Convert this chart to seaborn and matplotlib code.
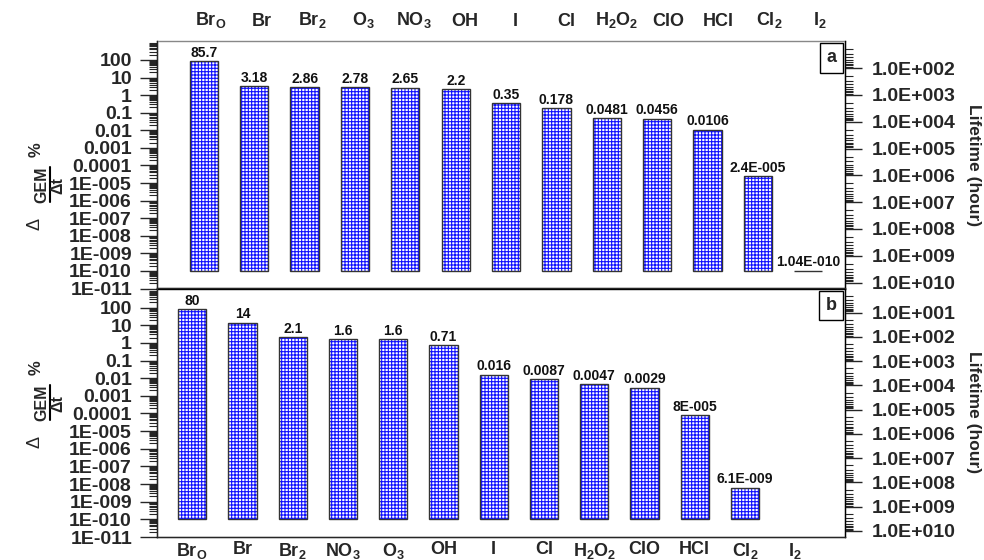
import numpy as np
import pandas as pd
import seaborn as sns
import matplotlib.pyplot as plt
from matplotlib import ticker
from matplotlib.patches import Rectangle
from matplotlib.lines import Line2D

# panel a data
cats_a = ["BrO", "Br", "Br2", "O3", "NO3", "OH", "I", "Cl", "H2O2", "ClO", "HCl", "Cl2", "I2"]
names_a = [r"Br$_O$", "Br", r"Br$_2$", r"O$_3$", r"NO$_3$", "OH", "I", "Cl",
           r"H$_2$O$_2$", "ClO", "HCl", r"Cl$_2$", r"I$_2$"]
vals_a = [85.7, 3.18, 2.86, 2.78, 2.65, 2.2, 0.35, 0.178, 0.0481, 0.0456, 0.0106, 2.4e-5, 1.04e-10]

# panel b data
cats_b = ["BrO", "Br", "Br2", "NO3", "O3", "OH", "I", "Cl", "H2O2", "ClO", "HCl", "Cl2", "I2"]
names_b = [r"Br$_O$", "Br", r"Br$_2$", r"NO$_3$", r"O$_3$", "OH", "I", "Cl",
           r"H$_2$O$_2$", "ClO", "HCl", r"Cl$_2$", r"I$_2$"]
vals_b = [80, 14, 2.1, 1.6, 1.6, 0.71, 0.016, 0.0087, 0.0047, 0.0029, 8e-5, 6.1e-9, np.nan]

rate_ticks = [10.0 ** e for e in range(-11, 3)]
rate_ticklabels = ["1E-011", "1E-010", "1E-009", "1E-008", "1E-007", "1E-006", "1E-005",
                   "0.0001", "0.001", "0.01", "0.1", "1", "10", "100"]
life_ticks_a = [10.0 ** e for e in range(2, 11)]
life_ticks_b = [10.0 ** e for e in range(1, 11)]

BASE = 1e-10

sns.set_style("ticks")
plt.rcParams["font.family"] = ["Liberation Sans", "DejaVu Sans"]
plt.rcParams["font.weight"] = "bold"
plt.rcParams["mathtext.fontset"] = "custom"
plt.rcParams["mathtext.default"] = "regular"
plt.rcParams["mathtext.bf"] = "Liberation Sans:bold"
plt.rcParams["mathtext.rm"] = "Liberation Sans:bold"
plt.rcParams["hatch.linewidth"] = 0.8


def fmt(v):
    if v >= 0.001:
        return f"{v:g}"
    mant, ex = f"{v:g}".split("e")
    return f"{mant}E-{abs(int(ex)):03d}"


def panel(ax, cats, names, vals, letter, life_ticks, xlim, life_lim):
    df = pd.DataFrame({"species": cats, "rate": np.array(vals, dtype=float) - BASE})
    sns.barplot(data=df, x="species", y="rate", order=cats, ax=ax, bottom=BASE,
                width=0.56, color="white", saturation=1, edgecolor="#1010ff",
                linewidth=0, hatch="+++++", errorbar=None)
    bars = ax.containers[0]
    for p in bars:
        ax.add_patch(Rectangle(p.get_xy(), p.get_width(), p.get_height(),
                               fill=False, edgecolor="#333333", lw=1, zorder=3))
    ax.bar_label(bars, labels=[fmt(v) for v in vals if not np.isnan(v)],
                 padding=1, fontsize=10, fontweight="bold", color="#111111")

    ax.set_yscale("log")
    ax.set_ylim(1e-11, 10 ** 3.08)
    ax.set_xlim(*xlim)
    ax.set_xlabel("")
    ax.set_ylabel("")
    ax.yaxis.set_major_locator(ticker.FixedLocator(rate_ticks))
    ax.yaxis.set_major_formatter(ticker.FixedFormatter(rate_ticklabels))
    ax.yaxis.set_minor_locator(ticker.LogLocator(base=10, subs=np.arange(2, 10), numticks=60))
    ax.yaxis.set_minor_formatter(ticker.NullFormatter())
    ax.tick_params(axis="y", which="major", direction="out", length=12, width=1,
                   pad=6, labelsize=14)
    ax.tick_params(axis="y", which="minor", direction="out", length=6, width=0.8)
    ax.set_xticks(range(len(cats)))
    ax.set_xticklabels(names)
    ax.tick_params(axis="x", length=0, labelsize=13)

    ax2 = ax.twinx()
    ax2.set_yscale("log")
    ax2.set_ylim(*life_lim)
    ax2.yaxis.set_major_locator(ticker.FixedLocator(life_ticks))
    ax2.yaxis.set_major_formatter(ticker.FixedFormatter(
        [f"1.0E+{int(round(np.log10(t))):03d}" for t in life_ticks]))
    ax2.yaxis.set_minor_locator(ticker.LogLocator(base=10, subs=np.arange(2, 10), numticks=60))
    ax2.yaxis.set_minor_formatter(ticker.NullFormatter())
    ax2.tick_params(axis="y", which="major", direction="out", length=12, width=1,
                    pad=7, labelsize=14)
    ax2.tick_params(axis="y", which="minor", direction="out", length=6, width=0.8)
    ax2.spines["top"].set_visible(False)

    for s in ax.spines.values():
        s.set_color("black")
        s.set_linewidth(1)
    ax2.spines["right"].set_color("black")

    ax.annotate(letter, xy=(1, 1), xycoords="axes fraction", xytext=(-6, -6),
                textcoords="offset points", ha="right", va="top", fontsize=13,
                fontweight="bold", zorder=5,
                bbox=dict(boxstyle="square,pad=0.35", fc="white", ec="black", lw=1))
    return ax2


def rate_label(fig, yc):
    # "Δ GEM/Δt %" written sideways, built from pieces (pixel positions)
    W, H = 984, 560
    kw = dict(rotation=90, ha="center", va="center")
    fig.text(35 / W, 1 - (yc + 40) / H, "\u0394", fontweight="normal", fontsize=13, **kw)
    fig.text(42 / W, 1 - (yc + 1) / H, "GEM", fontsize=11.5, **kw)
    fig.add_artist(Line2D([50 / W, 50 / W], [1 - (yc + 18) / H, 1 - (yc - 17) / H],
                          color="black", lw=1.5, transform=fig.transFigure))
    fig.text(58 / W, 1 - (yc + 2) / H, "\u0394t", fontsize=11.5, **kw)
    fig.text(36 / W, 1 - (yc - 34) / H, "%", fontsize=12, **kw)


fig = plt.figure(figsize=(9.84, 5.6), dpi=100)
ax_a = fig.add_axes([157 / 984, 1 - 288.5 / 560, 688 / 984, 247.5 / 560])
ax_b = fig.add_axes([157 / 984, 1 - 537 / 560, 688 / 984, 248.5 / 560])

panel(ax_a, cats_a, names_a, vals_a, "a", life_ticks_a, (-0.93, 12.73),
      (10 ** 10.22, 10 ** 0.99))
ax_a.xaxis.tick_top()
# top labels sit a little right of their bars in the original
ax_a.set_xticks(np.arange(len(cats_a)) * 1.008 + 0.14)
ax_a.set_xticklabels(names_a)
ax_a.tick_params(axis="x", pad=8)
ax_a.spines["top"].set_color("#888888")

panel(ax_b, cats_b, names_b, vals_b, "b", life_ticks_b, (-0.70, 12.99),
      (10 ** 10.25, 10 ** 0.01))
ax_b.tick_params(axis="x", pad=3)

rate_label(fig, 184)
rate_label(fig, 402)
fig.text(974 / 984, 1 - 165 / 560, "Lifetime (hour)", rotation=270, ha="center",
         va="center", fontsize=12.5)
fig.text(974 / 984, 1 - 412 / 560, "Lifetime (hour)", rotation=270, ha="center",
         va="center", fontsize=12.5)

fig.savefig("out.png", dpi=100)
